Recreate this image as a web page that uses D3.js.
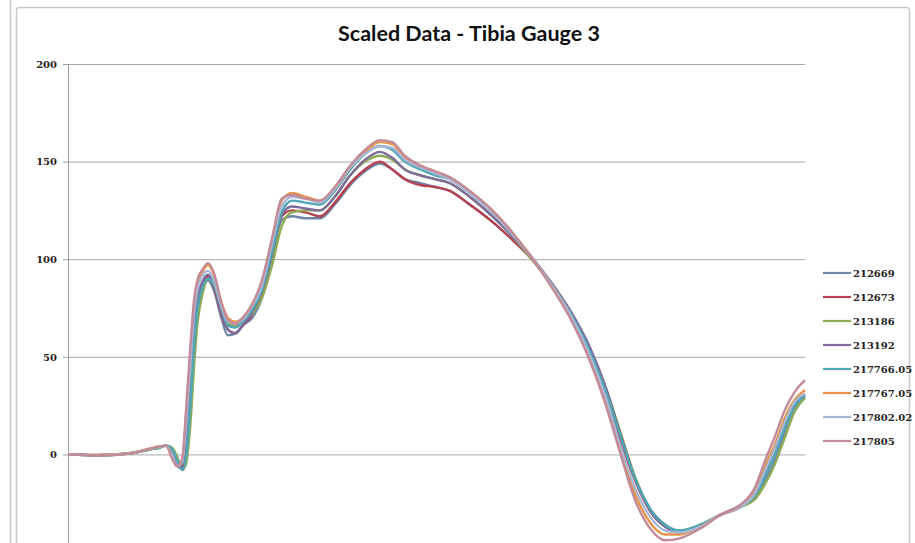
<!DOCTYPE html>
<html>
<head>
<meta charset="utf-8">
<script src="https://cdn.jsdelivr.net/npm/d3@7"></script>
<style>
  body { margin: 0; background: #fff; }
  svg { display: block; }
</style>
</head>
<body>
<div id="chart"></div>
<script>
// Time samples (ms) shared by every gauge trace
const time = [0, 4.3, 8.4, 11.1, 12.5, 13.3, 14.1, 14.8, 15.5, 16.0, 16.6, 17.1, 17.6, 18.3, 19.0, 19.8,
  20.8, 21.7, 22.7, 23.7, 25.0, 26.3, 27.7, 29.0, 30.4, 32.2, 34.2, 36.2, 38.3, 40.3, 42.3, 44.0, 45.7,
  47.8, 49.8, 51.8, 54.5, 57.3, 60.0, 62.7, 65.4, 68.1, 70.8, 72.9, 74.9, 76.9, 79.0, 81.0, 83.0, 85.8,
  88.5, 91.2, 93.2, 94.6, 95.9, 97.3, 98.6, 100];

const seriesNames = ["212669", "212673", "213186", "213192", "217766.05", "217767.05", "217802.02", "217805"];
const seriesColors = ["#6d86a8", "#b5404f", "#8fab55", "#7d6c9b", "#4fa6b5", "#e6944a", "#a8b6d3", "#c28b97"];

const s212669 = [0, -0.5, 0.5, 2.5, 3.5, 4.5, 3, -2, -8, -3, 20, 50, 72, 85, 89, 84, 70, 61, 62, 66, 70, 80,
  100, 120, 122, 121, 121, 128, 138, 145, 149, 146, 141, 139, 137, 135, 128, 120, 111, 101, 88, 73, 53, 30,
  10, -12, -28, -36, -40, -37, -31, -27, -22, -13, -3, 12, 24, 30];
const s212673 = [0, -0.3, 0.6, 2.7, 3.8, 4.5, 1, -6, -6, 8, 38, 65, 80, 88, 91, 86, 72, 64, 62, 66, 72, 83,
  104, 122, 125, 124, 122, 129, 139, 146, 150, 146, 141, 138, 137, 135, 128, 120, 111, 101, 88, 72, 52, 31,
  8, -13, -29, -37, -40, -37, -31, -27, -20, -9, 2, 16, 26, 30];
const s213186 = [0, -0.5, 0.4, 2.5, 3.5, 4.5, 3.5, -1, -8, -5, 15, 45, 68, 83, 90, 87, 76, 67, 66, 68, 72, 80,
  97, 117, 124, 125, 125, 132, 143, 150, 153, 151, 146, 143, 141, 139, 132, 123, 113, 101, 88, 73, 54, 35,
  12, -11, -28, -36, -39, -36, -31, -27, -23, -15, -5, 9, 22, 29];
const s213192 = [0, -0.4, 0.6, 2.8, 3.8, 4.5, 1.5, -6, -7, 5, 35, 63, 80, 89, 92, 87, 73, 64, 62, 66, 73, 84,
  105, 123, 127, 126, 125, 132, 143, 151, 155, 152, 146, 143, 141, 139, 132, 123, 113, 102, 89, 74, 55, 35,
  11, -12, -29, -37, -40, -37, -31, -26, -20, -9, 2, 15, 25, 31];
const s217766 = [0, -0.5, 0.5, 2.6, 3.6, 4.5, 3, -3, -8, -2, 25, 55, 75, 86, 90, 87, 75, 66, 65, 68, 74, 84,
  104, 124, 130, 129, 128, 135, 146, 154, 158, 156, 150, 146, 143, 141, 134, 125, 114, 102, 88, 73, 53, 33,
  10, -12, -28, -36, -39, -36, -31, -27, -21, -11, 0, 14, 25, 30];
const s217767 = [0, -0.3, 0.7, 3, 4.2, 4.5, -1, -6, -3, 18, 50, 76, 88, 94, 97, 92, 78, 70, 68, 70, 77, 88,
  110, 130, 134, 132, 130, 136, 147, 155, 160, 159, 152, 148, 145, 142, 135, 126, 115, 102, 88, 72, 50, 28,
  3, -20, -35, -41, -41, -37, -31, -27, -19, -6, 5, 19, 28, 33];
const s217802 = [0, -0.4, 0.6, 2.8, 4, 4.5, 0, -6, -4, 14, 45, 72, 85, 92, 94, 89, 76, 68, 67, 69, 76, 86,
  108, 127, 132, 131, 129, 136, 147, 154, 158, 157, 151, 147, 144, 141, 134, 125, 114, 102, 88, 72, 51, 30,
  5, -17, -32, -39, -40, -37, -31, -27, -20, -8, 3, 17, 27, 31];
const s217805 = [0, -0.6, 0.4, 2.8, 4.2, 4.5, -2, -6, -2, 22, 55, 79, 90, 95, 98, 93, 78, 69, 67, 70, 77, 89,
  111, 131, 133, 131, 130, 137, 148, 156, 161, 160, 153, 148, 145, 142, 135, 126, 115, 102, 87, 70, 48, 26,
  1, -23, -38, -44, -43, -38, -31, -26, -17, -3, 9, 23, 32, 38];

const yTicks = [0, 50, 100, 150, 200];

const allSeries = [s212669, s212673, s213186, s213192, s217766, s217767, s217802, s217805];

const W = 915, H = 543;
const margin = { top: 64, left: 68, right: 110, bottom: -9 };
const plotW = W - margin.left - margin.right,
  plotH = H - margin.top - margin.bottom;

const svg = d3.select("#chart").append("svg")
  .attr("width", W)
  .attr("height", H);

// frames from the report page
svg.append("line").attr("x1", 10.5).attr("x2", 10.5).attr("y1", 0).attr("y2", H)
  .attr("stroke", "#c8c8c8").attr("stroke-width", 1.5);
svg.append("rect").attr("x", 16.5).attr("y", 7.5).attr("width", 893).attr("height", H + 10)
  .attr("rx", 3).attr("fill", "none").attr("stroke", "#c8c8c8").attr("stroke-width", 1.5);

const x = d3.scaleLinear().domain([0, 100]).range([0, plotW]);
const y = d3.scaleLinear().domain([-50, 200]).range([plotH, 0]);

const g = svg.append("g").attr("transform", `translate(${margin.left},${margin.top})`);

// gridlines
g.append("g")
  .call(d3.axisLeft(y).tickValues(yTicks).tickSize(-plotW).tickFormat(""))
  .call(sel => sel.select(".domain").remove())
  .selectAll("line").attr("stroke", "#a6a6a6").attr("stroke-width", 1);

// y axis
const yAxis = g.append("g")
  .call(d3.axisLeft(y).tickValues(yTicks).tickSize(5).tickPadding(6));
yAxis.select(".domain").attr("stroke", "#9a9a9a");
yAxis.selectAll(".tick line").attr("stroke", "#9a9a9a");
yAxis.selectAll("text")
  .style("font-family", "'DejaVu Serif', serif")
  .style("font-size", "10px")
  .style("font-weight", "bold")
  .attr("fill", "#222");

// traces
const line = d3.line()
  .x((d, i) => x(time[i]))
  .y(d => y(d))
  .curve(d3.curveMonotoneX);

g.selectAll(".trace")
  .data(allSeries)
  .enter()
  .append("path")
  .attr("class", "trace")
  .attr("d", line)
  .attr("fill", "none")
  .attr("stroke", (d, i) => seriesColors[i])
  .attr("stroke-width", 2.4)
  .attr("stroke-linejoin", "round");

// title
svg.append("text")
  .attr("x", 469)
  .attr("y", 41)
  .attr("text-anchor", "middle")
  .style("font-family", "Lato, sans-serif")
  .style("font-size", "21.5px")
  .style("font-weight", "bold")
  .attr("fill", "#111")
  .text("Scaled Data - Tibia Gauge 3");

// legend
const legend = svg.append("g").attr("transform", "translate(823,273)");
const item = legend.selectAll("g")
  .data(seriesNames)
  .enter()
  .append("g")
  .attr("transform", (d, i) => `translate(0,${i * 24})`);
item.append("line")
  .attr("x1", 0).attr("x2", 28)
  .attr("stroke", (d, i) => seriesColors[i])
  .attr("stroke-width", 2.2);
item.append("text")
  .attr("x", 30)
  .attr("y", 4)
  .style("font-family", "'DejaVu Serif', serif")
  .style("font-size", "10px")
  .style("font-weight", "bold")
  .attr("fill", "#222")
  .text(d => d);
</script>
</body>
</html>
